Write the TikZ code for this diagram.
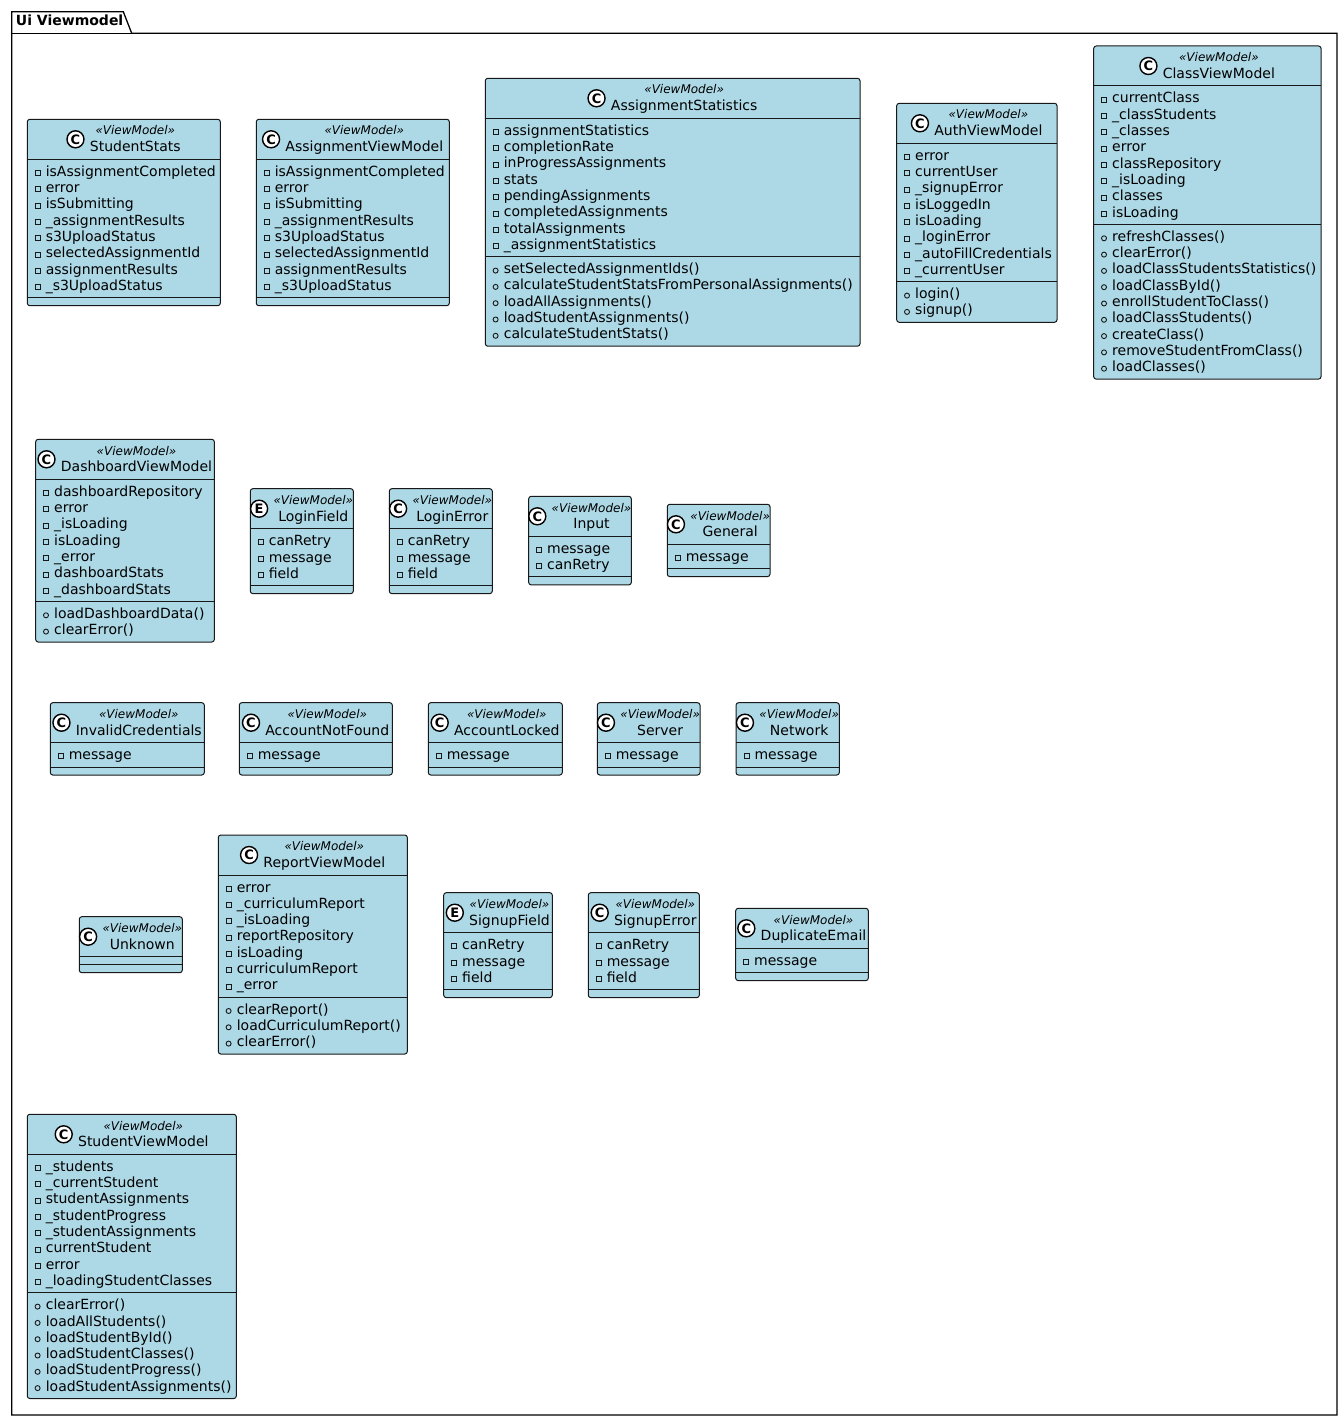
\documentclass[tikz,border=0pt]{standalone}
\usepackage{fontspec}
\setmainfont{DejaVu Sans}
\usetikzlibrary{fit}
\definecolor{boxfill}{HTML}{ADD8E6}
\definecolor{boxline}{HTML}{181818}
\tikzset{
  cls/.style={draw=boxline, fill=boxfill, line width=1pt, rounded corners=2.5pt, inner sep=0pt, outer sep=0pt, anchor=north west},
  sepline/.style={draw=boxline, line width=1pt},
  stereo/.style={inner sep=0pt, anchor=base, font=\fontsize{12}{14}\selectfont\itshape},
  cname/.style={inner sep=0pt, anchor=base, font=\fontsize{14}{16.3}\selectfont},
  member/.style={inner sep=0pt, anchor=base west, font=\fontsize{14}{16.3}\selectfont},
  spot/.style={circle, draw=black, fill=white, line width=1.4pt, minimum size=17pt, inner sep=0pt, font=\fontsize{13}{13}\selectfont\bfseries},
  privmark/.style={rectangle, draw=boxline, line width=0.9pt, minimum size=5pt, inner sep=0pt},
  pubmark/.style={circle, draw=boxline, line width=0.9pt, minimum size=5pt, inner sep=0pt},
  pkg/.style={draw=black, line width=1.3pt},
  pkglabel/.style={inner sep=0pt, anchor=base west, font=\fontsize{14}{16.3}\selectfont\bfseries},
}
% id, L, T, R, na, nm, letter, name
\newcommand\umlbox[8]{%
  \pgfmathsetmacro\bh{56+16.3*(#5+#6)}%
  \node[cls, minimum width={(#4-#2)*1pt}, minimum height=\bh pt] (#1) at (#2,#3) {};
  \coordinate (#1-a) at (#2,#3+40);
  \coordinate (#1-m) at (#2,#3+48+16.3*#5);
  \draw[sepline] (#1-a) -- (#4,#3+40);
  \draw[sepline] (#1-m) -- (#4,#3+48+16.3*#5);
  \node[stereo] (#1-s) at ({(#2+#4)/2+11.5},#3+15.7) {«ViewModel»};
  \node[cname] (#1-n) at ({(#2+#4)/2+11.5},#3+32.4) {#8};
  \node[fit=(#1-s)(#1-n), inner sep=0pt] (#1-g) {};
  \coordinate (#1-hc) at (#2,#3+20);
  \coordinate (#1-gw) at ([xshift=-14pt]#1-g.west);
  \node[spot] (#1-i) at (#1-gw |- #1-hc) {#7};
}
\newcommand\umlattrs[2]{%
  \foreach \t [count=\i from 0] in {#2} {
    \node[member] (#1-at\i) at ([xshift=18.3pt, yshift={-(17+16.3*\i)*1pt}]#1-a) {\t};
    \node[privmark] (#1-ap\i) at ([xshift=10.5pt, yshift={-(13.7+16.3*\i)*1pt}]#1-a) {};
  }%
}
\newcommand\umlmeths[2]{%
  \foreach \t [count=\i from 0] in {#2} {
    \node[member] (#1-mt\i) at ([xshift=18.3pt, yshift={-(17+16.3*\i)*1pt}]#1-m) {\t};
    \node[pubmark] (#1-mp\i) at ([xshift=10.3pt, yshift={-(13.9+16.3*\i)*1pt}]#1-m) {};
  }%
}
\begin{document}
\begin{tikzpicture}[x=1pt, y=-1pt]
\useasboundingbox (0,0) rectangle (1343,1420);
\fill[white] (0,0) rectangle (1343,1420);
% package
\draw[pkg, line join=miter] (11.7,11.7) -- (123.3,11.7) -- (131.7,33.3) -- (1337,33.3) -- (1337,1415) -- (11.7,1415) -- cycle;
\draw[pkg] (11.7,33.3) -- (131.7,33.3);
\node[pkglabel] (pkgname) at (15.7,26) {Ui Viewmodel};

% row 1
\umlbox{StudentStats}{27.3}{119.3}{220.3}{8}{0}{C}{StudentStats}
\umlattrs{StudentStats}{isAssignmentCompleted,error,isSubmitting,\_assignmentResults,s3UploadStatus,selectedAssignmentId,assignmentResults,\_s3UploadStatus}

\umlbox{AssignmentViewModel}{256.3}{119.3}{449.3}{8}{0}{C}{AssignmentViewModel}
\umlattrs{AssignmentViewModel}{isAssignmentCompleted,error,isSubmitting,\_assignmentResults,s3UploadStatus,selectedAssignmentId,assignmentResults,\_s3UploadStatus}

\umlbox{AssignmentStatistics}{485.3}{78.3}{860}{8}{5}{C}{AssignmentStatistics}
\umlattrs{AssignmentStatistics}{assignmentStatistics,completionRate,inProgressAssignments,stats,pendingAssignments,completedAssignments,totalAssignments,\_assignmentStatistics}
\umlmeths{AssignmentStatistics}{setSelectedAssignmentIds(),calculateStudentStatsFromPersonalAssignments(),loadAllAssignments(),loadStudentAssignments(),calculateStudentStats()}

\umlbox{AuthViewModel}{896.7}{103.3}{1057}{8}{2}{C}{AuthViewModel}
\umlattrs{AuthViewModel}{error,currentUser,\_signupError,isLoggedIn,isLoading,\_loginError,\_autoFillCredentials,\_currentUser}
\umlmeths{AuthViewModel}{login(),signup()}

\umlbox{ClassViewModel}{1093.7}{46}{1321}{8}{9}{C}{ClassViewModel}
\umlattrs{ClassViewModel}{currentClass,\_classStudents,\_classes,error,classRepository,\_isLoading,classes,isLoading}
\umlmeths{ClassViewModel}{refreshClasses(),clearError(),loadClassStudentsStatistics(),loadClassById(),enrollStudentToClass(),loadClassStudents(),createClass(),removeStudentFromClass(),loadClasses()}

% row 2
\umlbox{DashboardViewModel}{35.7}{439.3}{214.3}{7}{2}{C}{DashboardViewModel}
\umlattrs{DashboardViewModel}{dashboardRepository,error,\_isLoading,isLoading,\_error,dashboardStats,\_dashboardStats}
\umlmeths{DashboardViewModel}{loadDashboardData(),clearError()}

\umlbox{LoginField}{250.3}{488.7}{353.3}{3}{0}{E}{LoginField}
\umlattrs{LoginField}{canRetry,message,field}

\umlbox{LoginError}{389.3}{488.7}{492.3}{3}{0}{C}{LoginError}
\umlattrs{LoginError}{canRetry,message,field}

\umlbox{Input}{528.7}{496.3}{631.3}{2}{0}{C}{Input}
\umlattrs{Input}{message,canRetry}

\umlbox{General}{667.3}{504.3}{770}{1}{0}{C}{General}
\umlattrs{General}{message}

% row 3
\umlbox{InvalidCredentials}{50.3}{702.7}{204.3}{1}{0}{C}{InvalidCredentials}
\umlattrs{InvalidCredentials}{message}

\umlbox{AccountNotFound}{239.3}{702.7}{392.3}{1}{0}{C}{AccountNotFound}
\umlattrs{AccountNotFound}{message}

\umlbox{AccountLocked}{428.3}{702.7}{562.3}{1}{0}{C}{AccountLocked}
\umlattrs{AccountLocked}{message}

\umlbox{Server}{597.3}{702.7}{700}{1}{0}{C}{Server}
\umlattrs{Server}{message}

\umlbox{Network}{736}{702.7}{839.3}{1}{0}{C}{Network}
\umlattrs{Network}{message}

% row 4
\umlbox{Unknown}{79.3}{916.7}{182.3}{0}{0}{C}{Unknown}

\umlbox{ReportViewModel}{218.3}{835}{407.3}{7}{3}{C}{ReportViewModel}
\umlattrs{ReportViewModel}{error,\_curriculumReport,\_isLoading,reportRepository,isLoading,curriculumReport,\_error}
\umlmeths{ReportViewModel}{clearReport(),loadCurriculumReport(),clearError()}

\umlbox{SignupField}{443.7}{892.7}{552.3}{3}{0}{E}{SignupField}
\umlattrs{SignupField}{canRetry,message,field}

\umlbox{SignupError}{588.3}{892.7}{699.3}{3}{0}{C}{SignupError}
\umlattrs{SignupError}{canRetry,message,field}

\umlbox{DuplicateEmail}{735.7}{908.3}{868.3}{1}{0}{C}{DuplicateEmail}
\umlattrs{DuplicateEmail}{message}

% row 5
\umlbox{StudentViewModel}{27.3}{1114.3}{236.3}{8}{6}{C}{StudentViewModel}
\umlattrs{StudentViewModel}{\_students,\_currentStudent,studentAssignments,\_studentProgress,\_studentAssignments,currentStudent,error,\_loadingStudentClasses}
\umlmeths{StudentViewModel}{clearError(),loadAllStudents(),loadStudentById(),loadStudentClasses(),loadStudentProgress(),loadStudentAssignments()}
\end{tikzpicture}
\end{document}
